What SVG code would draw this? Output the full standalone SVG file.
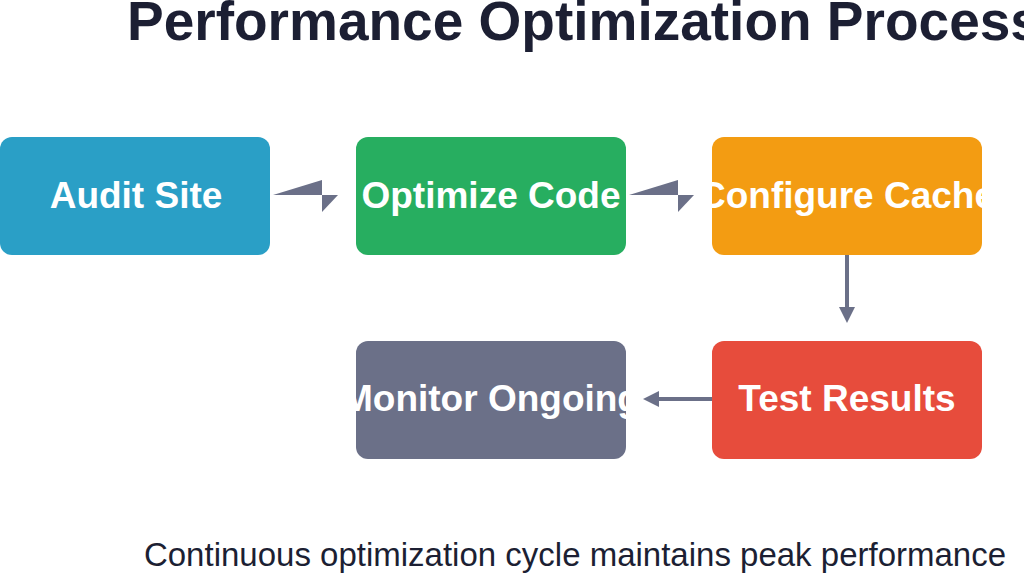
<svg xmlns="http://www.w3.org/2000/svg" width="1024" height="574" viewBox="0 0 1024 574">
<style>
.t{font-family:"Liberation Sans",Arial,sans-serif;font-weight:bold;font-size:37px;fill:#fff;text-anchor:middle}
.c{fill:#6B7088}
</style>
<defs>
<clipPath id="c1"><rect x="0" y="137" width="270" height="118" rx="12"/></clipPath>
<clipPath id="c2"><rect x="356" y="137" width="270" height="118" rx="12"/></clipPath>
<clipPath id="c3"><rect x="712" y="137" width="270" height="118" rx="12"/></clipPath>
<clipPath id="c4"><rect x="356" y="341" width="270" height="118" rx="12"/></clipPath>
<clipPath id="c5"><rect x="712" y="341" width="270" height="118" rx="12"/></clipPath>
</defs>
<rect width="1024" height="574" fill="#fff"/>
<text x="127" y="40" font-family="Liberation Sans,Arial,sans-serif" font-weight="bold" font-size="55" fill="#1C1F33">Performance Optimization Process</text>
<g id="connectors">
<polygon class="c" points="273,195 322,180 322,195"/>
<polygon class="c" points="322,195 338,195 322,212"/>
<polygon class="c" points="629,195 678,180 678,195"/>
<polygon class="c" points="678,195 694,195 678,212"/>
<line x1="847" y1="255" x2="847" y2="310" stroke="#6B7088" stroke-width="4"/>
<polygon class="c" points="839,307 855,307 847,323"/>
<line x1="712" y1="399" x2="655" y2="399" stroke="#6B7088" stroke-width="4"/>
<polygon class="c" points="659,391 659,407 643,399"/>
</g>
<g id="audit"><rect x="0" y="137" width="270" height="118" rx="12" fill="#2A9FC6"/><text class="t" x="136" y="208" clip-path="url(#c1)">Audit Site</text></g>
<g id="optimize"><rect x="356" y="137" width="270" height="118" rx="12" fill="#27AE60"/><text class="t" x="491" y="208" clip-path="url(#c2)">Optimize Code</text></g>
<g id="cache"><rect x="712" y="137" width="270" height="118" rx="12" fill="#F39C12"/><text class="t" x="847" y="208" clip-path="url(#c3)">Configure Cache</text></g>
<g id="monitor"><rect x="356" y="341" width="270" height="118" rx="12" fill="#6B7088"/><text class="t" x="491" y="411" clip-path="url(#c4)">Monitor Ongoing</text></g>
<g id="test"><rect x="712" y="341" width="270" height="118" rx="12" fill="#E74C3C"/><text class="t" x="847" y="411" clip-path="url(#c5)">Test Results</text></g>
<text x="575" y="566" text-anchor="middle" font-family="Liberation Sans,Arial,sans-serif" font-size="33" fill="#1C1F33">Continuous optimization cycle maintains peak performance</text>
</svg>
